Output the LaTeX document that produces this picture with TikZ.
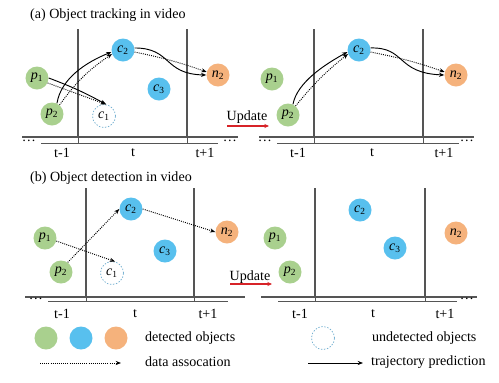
\documentclass[tikz,border=0pt]{standalone}
\usepackage{fontspec}
\setmainfont{Liberation Serif}
\usetikzlibrary{calc, arrows.meta}

\definecolor{obj_green}{RGB}{169,208,142}
\definecolor{obj_blue}{RGB}{88,192,238}
\definecolor{obj_orange}{RGB}{245,178,124}
\definecolor{undet_blue}{RGB}{105,170,205}
\definecolor{line_gray}{RGB}{85,85,85}
\definecolor{upd_red}{RGB}{215,35,40}

\newcommand{\obj}[2]{\textit{#1}\textsubscript{#2}}

\begin{document}
\begin{tikzpicture}[x=0.03cm, y=-0.03cm, font=\fontsize{12}{14}\selectfont,
    det/.style = {circle, minimum size=0.69cm, inner sep=0pt},
    det_green/.style = {det, fill=obj_green},
    det_blue/.style = {det, fill=obj_blue},
    det_orange/.style = {det, fill=obj_orange},
    undet/.style = {det, draw=undet_blue, line width=0.6pt, dash pattern=on 1.2pt off 1.4pt},
    assoc/.style = {black, line width=0.8pt, densely dotted, -{Stealth[length=4.5pt, width=3.5pt]}},
    traj/.style = {black, line width=0.8pt, -{Stealth[length=4.5pt, width=3.5pt]}},
    frame_line/.style = {line_gray, line width=0.9pt},
    upd_arrow/.style = {upd_red, line width=1.1pt, -{Stealth[length=4pt, width=3.5pt]}}
]
    \useasboundingbox (0, 0) rectangle (499, 382);

    % (a) object tracking
    \node[anchor = west] (title_a) at (26, 15) {(a) Object tracking in video};

    \foreach \x in {78, 187, 314, 423} {
        \draw[frame_line] (\x, 29) -- (\x, 137);
        \draw[line_gray, line width=0.6pt] (\x, 137) -- (\x, 143);
    }
    \draw[frame_line] (22, 137) -- (238, 137);
    \draw[line_gray, line width=0.7pt] (41, 143) -- (218, 143);
    \draw[frame_line] (259, 137) -- (474, 137);
    \draw[line_gray, line width=0.7pt] (277, 143) -- (459, 143);
    \node (dots_a1) at (29, 141) {\dots};
    \node (dots_a2) at (230, 141) {\dots};
    \node (dots_a3) at (265, 141) {\dots};
    \node (dots_a4) at (467, 141) {\dots};
    \node (ta_l1) at (62, 153) {t-1};
    \node (ta_l2) at (133, 153) {t};
    \node (ta_l3) at (205, 153) {t+1};
    \node (ta_r1) at (298, 153) {t-1};
    \node (ta_r2) at (372, 153) {t};
    \node (ta_r3) at (444, 153) {t+1};

    \node[det_green] (a1_p1) at (37, 78) {\obj{p}{1}};
    \node[det_green] (a1_p2) at (52, 114) {\obj{p}{2}};
    \node[undet] (a1_c1) at (104, 116) {\obj{c}{1}};
    \node[det_blue] (a1_c2) at (123, 50) {\obj{c}{2}};
    \node[det_blue] (a1_c3) at (159, 89) {\obj{c}{3}};
    \node[det_orange] (a1_n2) at (218, 75) {\obj{n}{2}};

    \draw[traj] (a1_p1.east) to[bend left=4] (a1_c1.80);
    \draw[assoc] (a1_p1.-25) -- (a1_c1.80);
    \draw[traj] (a1_p2.65) .. controls +(4, -25) and +(-25, 10) .. (a1_c2.190);
    \draw[assoc] (a1_p2.50) to[bend left=10] (a1_c2.200);
    \draw[traj] (a1_c2.10) .. controls (172, 48) and (163, 74) .. (a1_n2.west);
    \draw[assoc] (a1_c2.-10) to[bend left=4] (a1_n2.165);

    \node (upd_a) at (247, 117) {Update};
    \coordinate (upd_a_s) at (227, 126);
    \coordinate (upd_a_e) at (269, 126);
    \draw[upd_arrow] (upd_a_s) -- (upd_a_e);

    \node[det_green] (a2_p1) at (272, 79) {\obj{p}{1}};
    \node[det_green] (a2_p2) at (288, 115) {\obj{p}{2}};
    \node[det_blue] (a2_c2) at (359, 50) {\obj{c}{2}};
    \node[det_orange] (a2_n2) at (456, 75) {\obj{n}{2}};

    \draw[traj] (a2_p2.65) .. controls +(4, -22) and +(-22, 12) .. (a2_c2.190);
    \draw[assoc] (a2_p2.50) to[bend left=6] (a2_c2.200);
    \draw[traj] (a2_c2.10) .. controls (406, 47) and (396, 73) .. (a2_n2.west);
    \draw[assoc] (a2_c2.-10) to[bend left=4] (a2_n2.165);

    % (b) object detection
    \node[anchor = west] (title_b) at (26, 178) {(b) Object detection in video};

    \foreach \x in {86, 194, 315, 425} {
        \draw[frame_line] (\x, 188) -- (\x, 297);
        \draw[line_gray, line width=0.6pt] (\x, 297) -- (\x, 301);
    }
    \draw[frame_line] (25, 297) -- (245, 297);
    \draw[line_gray, line width=0.7pt] (48, 301) -- (228, 301);
    \draw[frame_line] (261, 297) -- (477, 297);
    \draw[line_gray, line width=0.7pt] (278, 301) -- (457, 301);
    \node (dots_b1) at (36, 299) {\dots};
    \node (dots_b2) at (467, 299) {\dots};
    \node (tb_l1) at (62, 314) {t-1};
    \node (tb_l2) at (135, 314) {t};
    \node (tb_l3) at (208, 314) {t+1};
    \node (tb_r1) at (300, 314) {t-1};
    \node (tb_r2) at (373, 314) {t};
    \node (tb_r3) at (445, 314) {t+1};

    \node[det_green] (b1_p1) at (45, 238) {\obj{p}{1}};
    \node[det_green] (b1_p2) at (61, 272) {\obj{p}{2}};
    \node[undet] (b1_c1) at (112, 273) {\obj{c}{1}};
    \node[det_blue] (b1_c2) at (131, 209) {\obj{c}{2}};
    \node[det_blue] (b1_c3) at (165, 251) {\obj{c}{3}};
    \node[det_orange] (b1_n2) at (227, 232) {\obj{n}{2}};

    \draw[assoc] (b1_p1.-15) -- (b1_c1.75);
    \draw[assoc] (b1_p2.55) -- (b1_c2.west);
    \draw[assoc] (b1_c2.east) -- (b1_n2.west);

    \node (upd_b) at (250, 277) {Update};
    \coordinate (upd_b_s) at (230, 284);
    \coordinate (upd_b_e) at (272, 284);
    \draw[upd_arrow] (upd_b_s) -- (upd_b_e);

    \node[det_green] (b2_p1) at (275, 238) {\obj{p}{1}};
    \node[det_green] (b2_p2) at (290, 272) {\obj{p}{2}};
    \node[det_blue] (b2_c2) at (360, 210) {\obj{c}{2}};
    \node[det_blue] (b2_c3) at (395, 248) {\obj{c}{3}};
    \node[det_orange] (b2_n2) at (456, 233) {\obj{n}{2}};

    % legend
    \node[det_green] (leg_green) at (46, 338) {};
    \node[det_blue] (leg_blue) at (81, 338) {};
    \node[det_orange] (leg_orange) at (116, 338) {};
    \node[anchor = west] (leg_det) at (141, 338) {detected objects};
    \node[undet] (leg_undet_c) at (323, 338) {};
    \node[anchor = west] (leg_undet) at (368, 338) {undetected objects};

    \coordinate (leg_assoc_s) at (40, 363);
    \coordinate (leg_assoc_e) at (121, 363);
    \draw[assoc] (leg_assoc_s) -- (leg_assoc_e);
    \node[anchor = west] (leg_assoc) at (141, 362) {data assocation};
    \coordinate (leg_traj_s) at (308, 363);
    \coordinate (leg_traj_e) at (363, 363);
    \draw[traj] (leg_traj_s) -- (leg_traj_e);
    \node[anchor = west] (leg_traj) at (367, 362) {trajectory prediction};
\end{tikzpicture}
\end{document}
